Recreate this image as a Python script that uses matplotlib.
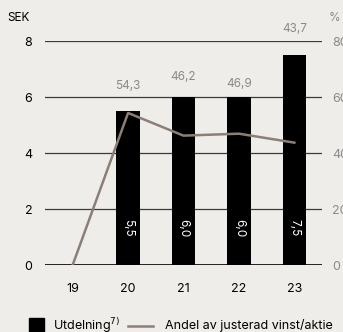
import matplotlib
matplotlib.use("Agg")
import matplotlib.pyplot as plt
from matplotlib.patches import Rectangle
from matplotlib.lines import Line2D

# ============================== Data

years = ["19", "20", "21", "22", "23"]
dividend = [0.0, 5.5, 6.0, 6.0, 7.5]          # SEK
share_pct = [0.0, 54.3, 46.2, 46.9, 43.7]     # %
bar_labels = ["", "5,5", "6,0", "6,0", "7,5"]
pct_labels = ["", "54,3", "46,2", "46,9", "43,7"]

# ============================== Style

BG = "#efedea"
LINE = "#8c7f77"
GREY = "#8a8a8a"
plt.rcParams["font.family"] = ["Inter", "DejaVu Sans"]

W, H = 343, 332
fig = plt.figure(figsize=(W / 100, H / 100), dpi=100, facecolor=BG)
ax = fig.add_axes([0.131, 0.2018, 0.808, 0.6747], facecolor=BG)
ax2 = ax.twinx()

x = list(range(len(years)))

# gridlines
for v in [2, 4, 6, 8]:
    ax.axhline(v, color="#3a3a3a", lw=0.9, zorder=1)
ax.axhline(0, color="#111111", lw=1.3, zorder=1)

ax.bar(x, dividend, width=0.42, color="black", zorder=2)
for xi, lab in zip(x, bar_labels):
    ax.text(xi, 1.32, lab, rotation=-90, ha="center", va="center",
            color="white", fontsize=8.5, zorder=4)

ax2.plot(x, share_pct, color=LINE, lw=1.8, zorder=3)

# etiquettes % au-dessus des barres
lab_y = [0, 6.39, 6.71, 6.46, 8.43]
for xi, lab, yy in zip(x, pct_labels, lab_y):
    ax.text(xi, yy, lab, ha="center", va="center", color=GREY,
            fontsize=8.5, clip_on=False)

ax.set_xlim(-0.5, 4.5)
ax.set_ylim(0, 8)
ax2.set_ylim(0, 80)
ax.set_zorder(ax2.get_zorder() - 1)
ax2.patch.set_visible(False)

ax.set_xticks(x)
ax.set_xticklabels(years, fontsize=9)
ax.set_yticks([0, 2, 4, 6, 8])
ax.set_yticklabels(["0", "2", "4", "6", "8"], fontsize=9)
ax2.set_yticks([0, 20, 40, 60, 80])
ax2.set_yticklabels(["0", "20", "40", "60", "80"], fontsize=9, color=GREY)
for a in (ax, ax2):
    a.tick_params(length=0)
    for s in a.spines.values():
        s.set_visible(False)
ax.tick_params(axis="y", pad=9)
ax.tick_params(axis="x", pad=13)
ax2.tick_params(axis="y", pad=7)

fig.text(0.022, 0.945, "SEK", fontsize=8.5, va="center")
fig.text(0.958, 0.945, "%", fontsize=8.5, va="center", color=GREY)

# legende manuelle (position en pixels de la figure)
ly = 1 - 326 / H
fig.patches.append(Rectangle((29 / W, 0), 15 / W, 14 / H, color="black",
                             transform=fig.transFigure, figure=fig))
fig.text(53 / W, ly, "Utdelning$^{7)}$", fontsize=9.0, va="center")
fig.lines.append(Line2D([128 / W, 153 / W], [ly, ly], color=LINE, lw=1.8,
                        transform=fig.transFigure, figure=fig))
fig.text(165 / W, ly, "Andel av justerad vinst/aktie", fontsize=9.0,
         va="center")

fig.savefig("out.png", dpi=100, facecolor=BG)
